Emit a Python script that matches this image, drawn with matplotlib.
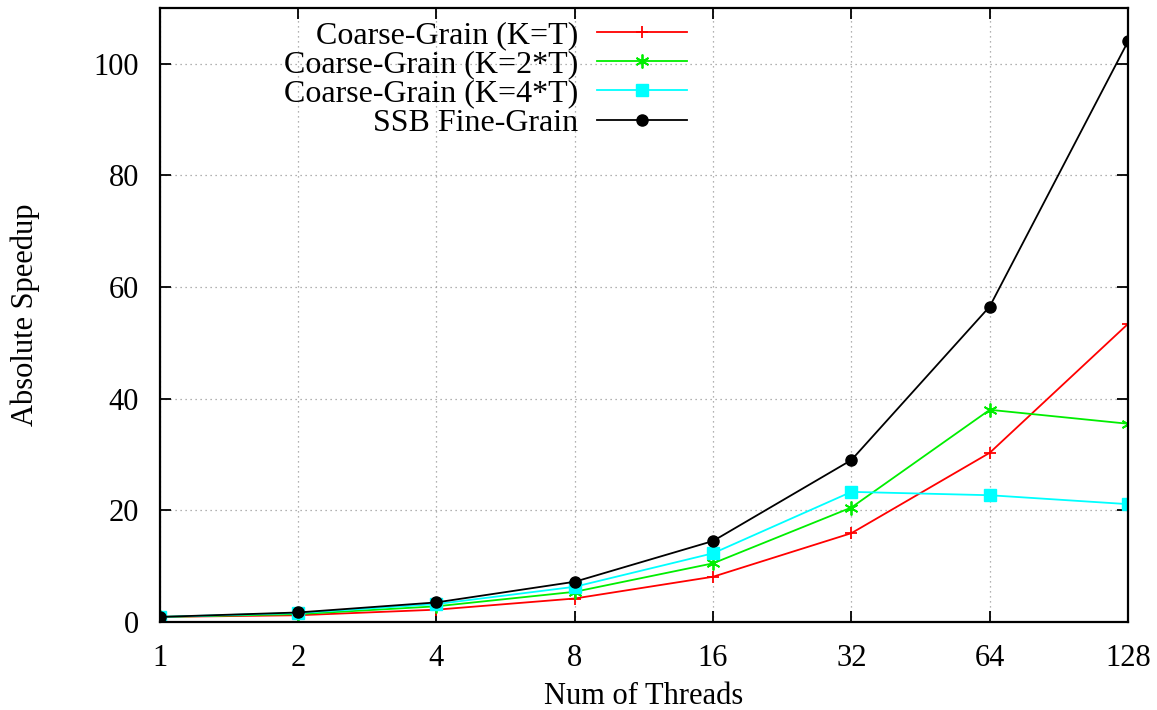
import numpy as np
import matplotlib.pyplot as plt

plt.rcParams['font.family'] = ['Liberation Serif', 'DejaVu Serif']

threads = [1, 2, 4, 8, 16, 32, 64, 128]
coarse_k1 = [0.9, 1.2, 2.2, 4.2, 8.1, 15.9, 30.3, 53.4]
coarse_k2 = [0.9, 1.4, 2.8, 5.4, 10.5, 20.5, 38.0, 35.5]
coarse_k4 = [0.9, 1.6, 3.2, 6.3, 12.3, 23.3, 22.7, 21.1]
ssb_fine = [0.9, 1.7, 3.5, 7.2, 14.5, 29.0, 56.5, 104.0]

labels = ['Coarse-Grain (K=T)', 'Coarse-Grain (K=2*T)',
          'Coarse-Grain (K=4*T)', 'SSB Fine-Grain']

fig = plt.figure(figsize=(11.57, 7.10), dpi=100)
ax = fig.add_axes([0.138, 0.124, 0.837, 0.865])

ax.plot(threads, coarse_k1, color='#ff0000', marker='+', markersize=9,
        markeredgewidth=1.3, lw=1.3, label=labels[0])
ax.plot(threads, coarse_k2, color='#00ee00', marker=(6, 2, 0), markersize=10,
        markeredgewidth=1.3, lw=1.3, label=labels[1])
ax.plot(threads, coarse_k4, color='#00ffff', marker='s', markersize=8,
        lw=1.3, label=labels[2])
ax.plot(threads, ssb_fine, color='black', marker='o', markersize=8,
        lw=1.3, label=labels[3])

ax.set_xscale('log', base=2)
ax.set_xlim(1, 128)
ax.set_ylim(0, 110)
ax.set_xticks(threads)
ax.set_xticklabels([str(t) for t in threads])
ax.minorticks_off()
ax.set_yticks([0, 20, 40, 60, 80, 100])

ax.grid(True, color='#999999', linestyle=(0, (1, 3)), lw=0.9)
ax.tick_params(direction='in', length=8, width=1.3, top=True, right=True,
               labelsize=22)
ax.tick_params(axis='x', pad=16)
ax.tick_params(axis='y', pad=15)
for s in ax.spines.values():
    s.set_linewidth(1.6)

# label positions in axes fraction, centred like the gnuplot output
ax.set_xlabel('Num of Threads', fontsize=22, va='center')
ax.xaxis.set_label_coords(0.5, -0.121)
ax.set_ylabel('Absolute Speedup', fontsize=22, va='center')
ax.yaxis.set_label_coords(-0.139, 0.5)

leg = ax.legend(loc='upper left', bbox_to_anchor=(0.115, 1.0), frameon=False,
                markerfirst=False, fontsize=23, handlelength=2.8,
                labelspacing=0.0, handletextpad=0.6, borderaxespad=0.0)

fig.savefig('out.png', dpi=100)
